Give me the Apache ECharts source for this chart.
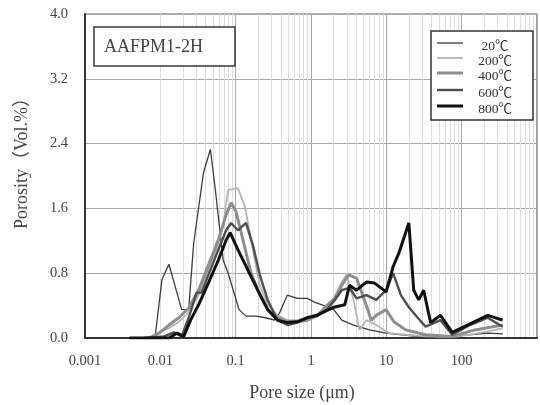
<!DOCTYPE html>
<html>
<head>
<meta charset="utf-8">
<script src="https://cdn.jsdelivr.net/npm/echarts@6/dist/echarts.min.js"></script>
<style>
html, body { margin: 0; padding: 0; background: #fff; }
#chart { width: 540px; height: 405px; }
</style>
</head>
<body>
<div id="chart"></div>
<script>
// Pore-size distribution of AAFPM1-2H after heating (pore size in µm, porosity in vol.%)
const seriesNames = ['20℃', '200℃', '400℃', '600℃', '800℃'];

const size20 = [0.0085, 0.0105, 0.013, 0.0156, 0.0192, 0.0238, 0.0277, 0.0374, 0.0462, 0.0537, 0.0684, 0.0794, 0.111, 0.137, 0.185, 0.25, 0.328, 0.382, 0.486, 0.657, 0.889, 1.13, 1.40, 2.01, 2.56, 3.67, 5.95, 9.94, 24.6, 75, 222, 350];
const poro20 = [0, 0.72, 0.91, 0.65, 0.35, 0.35, 1.17, 2.04, 2.33, 1.83, 0.96, 0.80, 0.35, 0.27, 0.27, 0.25, 0.22, 0.31, 0.53, 0.49, 0.49, 0.44, 0.41, 0.35, 0.22, 0.16, 0.10, 0.06, 0.02, 0.02, 0.06, 0.05];

const size200 = [0.0071, 0.0096, 0.013, 0.0176, 0.0238, 0.0322, 0.0435, 0.0588, 0.0684, 0.0794, 0.107, 0.133, 0.169, 0.209, 0.266, 0.36, 0.486, 0.657, 0.889, 1.20, 1.62, 2.01, 2.56, 2.97, 3.67, 4.40, 5.43, 7.35, 10.9, 18.2, 33.2, 75, 150, 350];
const poro200 = [0, 0.07, 0.12, 0.20, 0.32, 0.53, 0.84, 1.17, 1.40, 1.83, 1.85, 1.62, 1.09, 0.65, 0.41, 0.28, 0.22, 0.22, 0.25, 0.28, 0.37, 0.49, 0.69, 0.78, 0.47, 0.10, 0.22, 0.16, 0.06, 0.04, 0.02, 0.01, 0.05, 0.12];

const size400 = [0.0071, 0.0096, 0.013, 0.0176, 0.0238, 0.0322, 0.0435, 0.0588, 0.0748, 0.0871, 0.101, 0.125, 0.159, 0.209, 0.266, 0.36, 0.486, 0.657, 0.889, 1.20, 1.62, 2.07, 2.56, 3.15, 4.02, 5.12, 6.32, 7.35, 9.94, 12.6, 18.2, 33.2, 75, 150, 350];
const poro400 = [0, 0.06, 0.16, 0.25, 0.37, 0.59, 0.90, 1.21, 1.52, 1.67, 1.56, 1.21, 0.81, 0.53, 0.35, 0.25, 0.20, 0.20, 0.22, 0.27, 0.40, 0.49, 0.65, 0.78, 0.74, 0.47, 0.22, 0.28, 0.35, 0.20, 0.10, 0.04, 0.02, 0.10, 0.16];

const size600 = [0.0061, 0.0112, 0.0151, 0.0192, 0.0238, 0.0303, 0.0352, 0.0435, 0.0588, 0.0748, 0.0871, 0.107, 0.137, 0.169, 0.209, 0.266, 0.36, 0.486, 0.657, 0.889, 1.20, 1.62, 2.07, 2.56, 3.25, 4.02, 5.43, 7.35, 9.94, 12.3, 15.6, 19.9, 26.1, 33.2, 52.3, 75, 129, 222, 350];
const poro600 = [0, 0.02, 0.07, 0.02, 0.25, 0.56, 0.56, 0.78, 1.09, 1.33, 1.42, 1.33, 1.42, 1.15, 0.78, 0.47, 0.22, 0.16, 0.19, 0.25, 0.28, 0.35, 0.47, 0.59, 0.62, 0.49, 0.53, 0.47, 0.59, 0.80, 0.53, 0.38, 0.25, 0.14, 0.22, 0.04, 0.16, 0.25, 0.14];

const size800 = [0.0039, 0.013, 0.0166, 0.0205, 0.0252, 0.0322, 0.0435, 0.0588, 0.0748, 0.0845, 0.107, 0.145, 0.197, 0.266, 0.36, 0.486, 0.657, 0.889, 1.20, 2.01, 2.80, 3.25, 4.02, 5.43, 6.92, 9.94, 12.3, 14.7, 19.9, 23.1, 26.9, 31.3, 38.7, 52.3, 75, 222, 350];
const poro800 = [0, 0, 0.06, 0.02, 0.22, 0.41, 0.68, 0.96, 1.21, 1.30, 1.09, 0.84, 0.59, 0.35, 0.22, 0.19, 0.20, 0.25, 0.28, 0.38, 0.41, 0.65, 0.59, 0.69, 0.68, 0.57, 0.88, 1.05, 1.42, 0.59, 0.47, 0.59, 0.19, 0.28, 0.07, 0.28, 0.22];

const yTicks = [0.0, 0.8, 1.6, 2.4, 3.2, 4.0];
const xDecades = [0.001, 0.01, 0.1, 1, 10, 100, 1000];

const sizes = [size20, size200, size400, size600, size800];
const poros = [poro20, poro200, poro400, poro600, poro800];
const lineColors = ['#3c3c3c', '#b4b4b4', '#8e8e8e', '#4e4e4e', '#111111'];
const lineWidths = [1.3, 1.8, 3, 2.4, 3];

const pair = (xs, ys) => xs.map((x, i) => [x, ys[i]]);

// light minor gridlines at 2..9 within every decade
const minorLines = [];
xDecades.slice(0, -1).forEach(d => {
  for (let k = 2; k <= 9; k++) minorLines.push({ xAxis: d * k });
});

const serif = '"Liberation Serif", "Times New Roman", "Noto Sans CJK SC", serif';

const series = seriesNames.map((name, i) => ({
  name: name,
  type: 'line',
  data: pair(sizes[i], poros[i]),
  symbol: 'none',
  smooth: false,
  z: 3 + i,
  lineStyle: { color: lineColors[i], width: lineWidths[i] },
  itemStyle: { color: lineColors[i] }
}));

series.unshift({
  name: 'minor-grid',
  type: 'line',
  data: [],
  z: 0,
  silent: true,
  markLine: {
    z: 0,
    silent: true,
    symbol: ['none', 'none'],
    label: { show: false },
    lineStyle: { color: '#dedede', width: 1, type: 'solid' },
    emphasis: { disabled: true },
    data: minorLines
  }
});

// boxed key: one line swatch and label per heating temperature
const keyBox = { x: 431, y: 31, w: 102, h: 89 };
const keyRows = [43, 58, 73, 90, 106];
const keyChildren = [{
  type: 'rect',
  z: 100,
  shape: { x: 0, y: 0, width: keyBox.w, height: keyBox.h },
  style: { fill: '#fff', stroke: '#333', lineWidth: 1.5 }
}];
seriesNames.forEach((name, i) => {
  const ry = keyRows[i] - keyBox.y;
  keyChildren.push({
    type: 'line',
    z: 101,
    shape: { x1: 6, y1: ry, x2: 32, y2: ry },
    style: { stroke: lineColors[i], lineWidth: lineWidths[i] }
  });
  keyChildren.push({
    type: 'text',
    z: 101,
    x: 64,
    y: ry + 3,
    style: {
      text: name,
      fontFamily: serif,
      fontSize: 13.5,
      fill: '#333',
      align: 'center',
      verticalAlign: 'middle'
    }
  });
});

const chart = echarts.init(document.getElementById('chart'), null, { renderer: 'canvas' });
chart.setOption({
  animation: false,
  backgroundColor: '#fff',
  title: {
    text: 'AAFPM1-2H',
    left: 94,
    top: 27,
    padding: [11, 32, 10, 10],
    borderColor: '#3a3a3a',
    borderWidth: 1.5,
    backgroundColor: '#fff',
    textStyle: { fontFamily: serif, fontSize: 18, fontWeight: 'normal', color: '#444' }
  },
  grid: {
    left: 85,
    right: -3,
    top: 14,
    bottom: 67,
    show: true,
    borderColor: '#666',
    borderWidth: 1.2,
    containLabel: false
  },
  xAxis: {
    type: 'log',
    logBase: 10,
    min: xDecades[0],
    max: xDecades[xDecades.length - 1],
    axisLine: { show: true, lineStyle: { color: '#333', width: 2 } },
    axisTick: { show: false },
    splitLine: { show: true, lineStyle: { color: '#a8a8a8', width: 1 } },
    axisLabel: {
      margin: 16,
      fontFamily: serif,
      fontSize: 14.5,
      color: '#444',
      formatter: v => (v >= 999 ? '' : String(Number(v.toPrecision(1))))
    }
  },
  yAxis: {
    type: 'value',
    min: yTicks[0],
    max: yTicks[yTicks.length - 1],
    interval: 0.8,
    axisLine: { show: true, lineStyle: { color: '#333', width: 2 } },
    axisTick: { show: false },
    splitLine: { show: true, lineStyle: { color: '#a8a8a8', width: 1 } },
    axisLabel: {
      margin: 17,
      fontFamily: serif,
      fontSize: 14.5,
      color: '#444',
      formatter: v => v.toFixed(1)
    }
  },
  graphic: {
    z: 100,
    elements: [
      {
        type: 'text',
        x: 22,
        y: 159,
        rotation: Math.PI / 2,
        style: {
          text: 'Porosity（Vol.%）',
          fontFamily: serif,
          fontSize: 18,
          fill: '#444',
          align: 'center',
          verticalAlign: 'middle'
        }
      },
      {
        type: 'text',
        x: 302,
        y: 393,
        style: {
          text: 'Pore size (μm)',
          fontFamily: serif,
          fontSize: 18,
          fill: '#444',
          align: 'center',
          verticalAlign: 'middle'
        }
      },
      {
        type: 'group',
        x: keyBox.x,
        y: keyBox.y,
        children: keyChildren
      }
    ]
  },
  series: series
});
</script>
</body>
</html>
